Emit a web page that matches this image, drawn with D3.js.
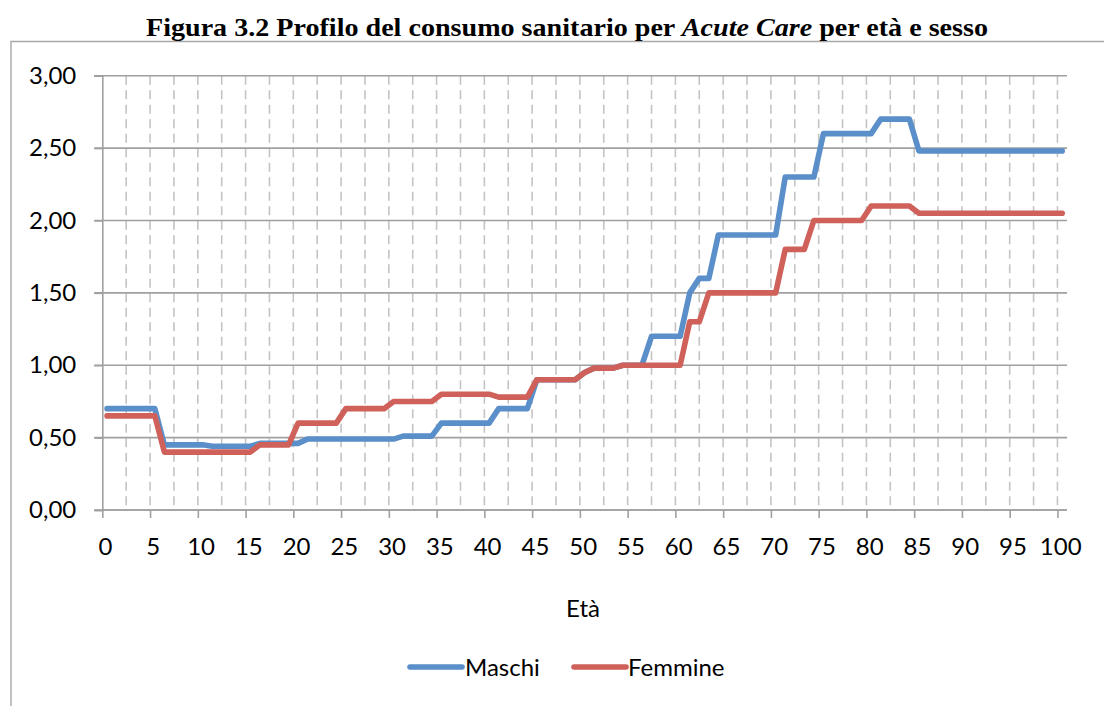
<!DOCTYPE html>
<html>
<head>
<meta charset="utf-8">
<script src="https://cdn.jsdelivr.net/npm/d3@7"></script>
<style>
  html, body { margin: 0; padding: 0; background: #fff; }
  svg { display: block; }
</style>
</head>
<body>
<svg id="chart" width="1104" height="706"></svg>
<script>
// ---- Data ----
const ages = d3.range(0, 101);
const xTickLabels = ["0","5","10","15","20","25","30","35","40","45","50","55","60","65","70","75","80","85","90","95","100"];
const yTicks = [0, 0.5, 1.0, 1.5, 2.0, 2.5, 3.0];
const seriesNames = ["Maschi", "Femmine"];
const maschi = [
  0.70,0.70,0.70,0.70,0.70,0.70,             // 0-5
  0.45,0.45,0.45,0.45,0.45,                  // 6-10
  0.44,0.44,0.44,0.44,0.44,                  // 11-15
  0.46,0.46,0.46,0.46,0.46,                  // 16-20
  0.49,0.49,0.49,0.49,0.49,0.49,0.49,0.49,0.49,0.49, // 21-30
  0.51,0.51,0.51,0.51,                       // 31-34
  0.60,0.60,0.60,0.60,0.60,0.60,             // 35-40
  0.70,0.70,0.70,0.70,                       // 41-44
  0.90,0.90,0.90,0.90,0.90,                  // 45-49
  0.95,                                      // 50
  0.98,0.98,0.98,                            // 51-53
  1.00,1.00,1.00,                            // 54-56
  1.20,1.20,1.20,1.20,                       // 57-60
  1.50,                                      // 61
  1.60,1.60,                                 // 62-63
  1.90,1.90,1.90,1.90,1.90,1.90,1.90,        // 64-70
  2.30,2.30,2.30,2.30,                       // 71-74
  2.60,2.60,2.60,2.60,2.60,2.60,             // 75-80
  2.70,2.70,2.70,2.70,                       // 81-84
  2.48,2.48,2.48,2.48,2.48,2.48,2.48,2.48,2.48,2.48,2.48,2.48,2.48,2.48,2.48,2.48 // 85-100
];
const femmine = [
  0.65,0.65,0.65,0.65,0.65,0.65,             // 0-5
  0.40,0.40,0.40,0.40,0.40,0.40,0.40,0.40,0.40,0.40, // 6-15
  0.45,0.45,0.45,0.45,                       // 16-19
  0.60,0.60,0.60,0.60,0.60,                  // 20-24
  0.70,0.70,0.70,0.70,0.70,                  // 25-29
  0.75,0.75,0.75,0.75,0.75,                  // 30-34
  0.80,0.80,0.80,0.80,0.80,0.80,             // 35-40
  0.78,0.78,0.78,0.78,                       // 41-44
  0.90,0.90,0.90,0.90,0.90,                  // 45-49
  0.95,                                      // 50
  0.98,0.98,0.98,                            // 51-53
  1.00,1.00,1.00,1.00,1.00,1.00,1.00,        // 54-60
  1.30,1.30,                                 // 61-62
  1.50,1.50,1.50,1.50,1.50,1.50,1.50,1.50,   // 63-70
  1.80,1.80,1.80,                            // 71-73
  2.00,2.00,2.00,2.00,2.00,2.00,             // 74-79
  2.10,2.10,2.10,2.10,2.10,                  // 80-84
  2.05,2.05,2.05,2.05,2.05,2.05,2.05,2.05,2.05,2.05,2.05,2.05,2.05,2.05,2.05,2.05 // 85-100
];
const colors = ["#5A8FC9", "#CF615A"];

// ---- Layout ----
const svg = d3.select("#chart");
const plotLeft = 102.3, plotRight = 1067, plotTop = 75.7, plotBottom = 510;
const x = d3.scaleLinear().domain([0, 101]).range([plotLeft, plotRight]);
const y = d3.scaleLinear().domain([0, 3]).range([plotBottom, plotTop]);
const sans = "Lato, 'Open Sans', sans-serif";
const fs = "24px";

// frame
svg.append("path")
  .attr("d", "M11,706 V41.5 H1104")
  .attr("fill", "none").attr("stroke", "#A8A8A8").attr("stroke-width", 1.4);

// title
const title = svg.append("text")
  .attr("x", 146).attr("y", 36)
  .attr("textLength", 842).attr("lengthAdjust", "spacingAndGlyphs")
  .style("font-family", "'Liberation Serif', 'Times New Roman', serif")
  .style("font-weight", "bold").style("font-size", "25.5px").attr("fill", "#000");
title.append("tspan").text("Figura 3.2 Profilo del consumo sanitario per ");
title.append("tspan").style("font-style", "italic").text("Acute Care");
title.append("tspan").text(" per età e sesso");

// vertical dashed gridlines every 2.5 years
const vGrid = d3.range(1, 41).map(k => k * 2.5);
svg.append("g").selectAll("line").data(vGrid).join("line")
  .attr("x1", d => x(d)).attr("x2", d => x(d))
  .attr("y1", plotTop).attr("y2", plotBottom)
  .attr("stroke", "#C4C4C4").attr("stroke-width", 1.6)
  .attr("stroke-dasharray", "9,5.5");

// horizontal gridlines (with left tick extension)
svg.append("g").selectAll("line").data(yTicks).join("line")
  .attr("x1", plotLeft - 8).attr("x2", plotRight)
  .attr("y1", d => y(d)).attr("y2", d => y(d))
  .attr("stroke", "#A0A0A0").attr("stroke-width", 1.6);

// y axis
const yAxis = d3.axisLeft(y).tickValues(yTicks).tickSize(8).tickPadding(18)
  .tickFormat(d => d3.format(".2f")(d).replace(".", ","));
const gy = svg.append("g").attr("transform", `translate(${plotLeft},0)`).call(yAxis);
gy.select(".domain").attr("stroke", "#A0A0A0").attr("stroke-width", 1.6);
gy.selectAll(".tick line").attr("stroke", "#A0A0A0").attr("stroke-width", 1.6);
gy.selectAll("text").style("font-family", sans).style("font-size", fs).attr("fill", "#000");

// x axis: ticks at 0,5,...,100 (category boundaries), labels centered on categories
const xAxis = d3.axisBottom(x).tickValues(xTickLabels.map(Number)).tickSize(8).tickFormat("");
const gx = svg.append("g").attr("transform", `translate(0,${plotBottom})`).call(xAxis);
gx.select(".domain").attr("d", `M${plotLeft},0H${plotRight}`).attr("stroke", "#A0A0A0").attr("stroke-width", 1.6);
gx.selectAll(".tick line").attr("stroke", "#A0A0A0").attr("stroke-width", 1.6);
svg.append("g").selectAll("text").data(xTickLabels).join("text")
  .attr("x", d => x(+d + 0.5) - 1.5).attr("y", 555)
  .attr("text-anchor", "middle")
  .style("font-family", sans).style("font-size", fs).attr("fill", "#000")
  .text(d => d);

// axis title
svg.append("text").attr("x", 583).attr("y", 617).attr("text-anchor", "middle")
  .style("font-family", sans).style("font-size", fs).attr("fill", "#000").text("Età");

// lines
const line = d3.line().x(d => x(d[0] + 0.5)).y(d => y(d[1]));
[maschi, femmine].forEach((vals, i) => {
  svg.append("path")
    .datum(ages.map((a, j) => [a, vals[j]]))
    .attr("d", line)
    .attr("fill", "none").attr("stroke", colors[i]).attr("stroke-width", 5.6)
    .attr("stroke-linejoin", "round").attr("stroke-linecap", "round");
});

// legend
const legendItems = [
  { name: seriesNames[0], color: colors[0], x0: 410, x1: 462, tx: 465 },
  { name: seriesNames[1], color: colors[1], x0: 574, x1: 626, tx: 628 }
];
const lg = svg.append("g");
legendItems.forEach(it => {
  lg.append("line").attr("x1", it.x0).attr("x2", it.x1).attr("y1", 667).attr("y2", 667)
    .attr("stroke", it.color).attr("stroke-width", 5.6).attr("stroke-linecap", "round");
  lg.append("text").attr("x", it.tx).attr("y", 676)
    .style("font-family", sans).style("font-size", fs).attr("fill", "#000").text(it.name);
});
</script>
</body>
</html>
